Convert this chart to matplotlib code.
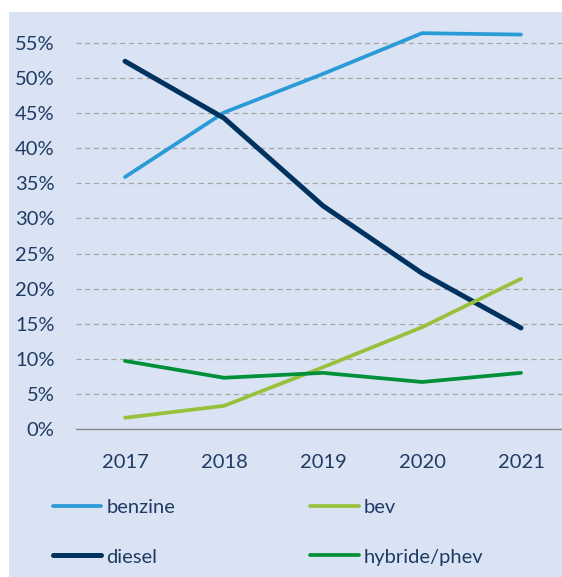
import matplotlib
matplotlib.use("Agg")
import matplotlib.pyplot as plt
from matplotlib.patches import Rectangle
from matplotlib.ticker import FuncFormatter

# data
years = [2017, 2018, 2019, 2020, 2021]
benzine = [35.9, 45.1, 50.6, 56.4, 56.2]
diesel = [52.4, 44.3, 31.8, 22.2, 14.4]
bev = [1.6, 3.3, 8.8, 14.5, 21.4]
hybride = [9.7, 7.3, 8.0, 6.7, 8.0]
yticks = [0, 5, 10, 15, 20, 25, 30, 35, 40, 45, 50, 55]

plt.rcParams['font.family'] = ['Lato', 'DejaVu Sans']
txt = '#1F3B64'
bg = '#DAE3F3'
fs = 14.5

W, H = 562, 577
fig = plt.figure(figsize=(W / 100, H / 100), dpi=100)
fig.patch.set_facecolor('white')
fig.patches.append(Rectangle((9 / W, 0), 1 - 9 / W, (H - 12) / H,
                             transform=fig.transFigure, facecolor=bg,
                             edgecolor='none', zorder=-10))

px5 = 35.09  # pixels per 5%
ax = fig.add_axes([75.5 / W, 148 / H, 1 - 75.5 / W, 58 / 5 * px5 / H])
ax.set_facecolor('none')
ax.set_zorder(2)

ax.plot(years, benzine, color='#2B9BD8', lw=2.7, label='benzine', solid_capstyle='round')
ax.plot(years, diesel, color='#00325F', lw=3.6, label='diesel', solid_capstyle='round')
ax.plot(years, bev, color='#97C03B', lw=2.7, label='bev', solid_capstyle='round')
ax.plot(years, hybride, color='#00903A', lw=2.7, label='hybride/phev', solid_capstyle='round')

ax.set_xlim(2016.5, 2016.5 + (W - 75.5) / 99)
ax.set_ylim(0, 58)
ax.set_xticks(years)
ax.set_yticks(yticks)
ax.yaxis.set_major_formatter(FuncFormatter(lambda v, p: f'{v:.0f}%'))
ax.grid(axis='y', color='#A6A6A6', ls=(0, (4, 3)), lw=0.9)
ax.set_axisbelow(True)
for s in ['top', 'right', 'left']:
    ax.spines[s].set_visible(False)
ax.spines['bottom'].set_color('#8C8C8C')
ax.spines['bottom'].set_linewidth(1.0)
ax.tick_params(axis='both', length=0, labelsize=fs, colors=txt)
ax.tick_params(axis='y', pad=15)
ax.tick_params(axis='x', pad=18)

handles, labels = ax.get_legend_handles_labels()
leg = fig.legend(handles, labels, ncol=2, loc='upper left',
                 bbox_to_anchor=(35 / W, 1 - 481 / H), frameon=False,
                 fontsize=fs, labelcolor=txt, handlelength=2.4,
                 handletextpad=0.25, columnspacing=6.7, labelspacing=1.6)
leg.set_zorder(3)

fig.savefig('out.png', dpi=100)
